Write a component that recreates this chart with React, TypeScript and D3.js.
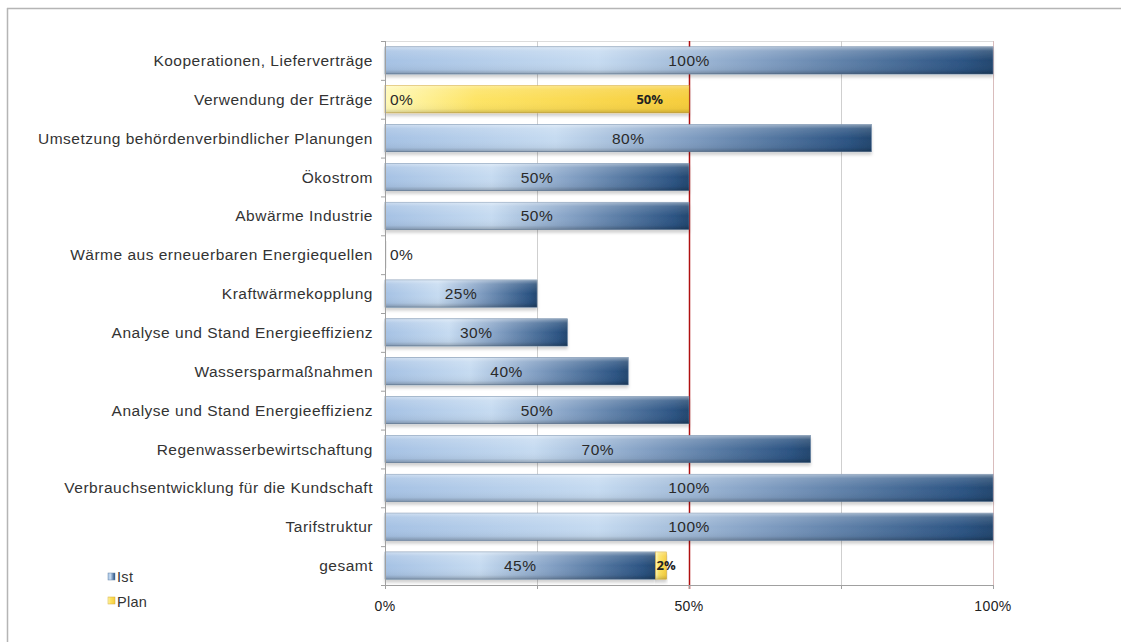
import React from "react";
import * as d3 from "d3";

const categories = [
  "Kooperationen, Lieferverträge",
  "Verwendung der Erträge",
  "Umsetzung behördenverbindlicher Planungen",
  "Ökostrom",
  "Abwärme Industrie",
  "Wärme aus erneuerbaren Energiequellen",
  "Kraftwärmekopplung",
  "Analyse und Stand Energieeffizienz",
  "Wassersparmaßnahmen",
  "Analyse und Stand Energieeffizienz ",
  "Regenwasserbewirtschaftung",
  "Verbrauchsentwicklung für die Kundschaft",
  "Tarifstruktur",
  "gesamt",
];
const istValues = [100, 0, 80, 50, 50, 0, 25, 30, 40, 50, 70, 100, 100, 44.5];
const planValues = [0, 50, 0, 0, 0, 0, 0, 0, 0, 0, 0, 0, 0, 1.8];
const xTicks = [0, 25, 50, 75, 100];
const xTickLabels = [0, 50, 100];
const targetValue = 50;

const W = 1127;
const H = 642;
const M = { left: 385, right: 993, top: 41, bottom: 585 };

export default function App() {
  const x = d3.scaleLinear().domain([0, 100]).range([M.left, M.right]);
  const y = d3
    .scaleBand<string>()
    .domain(categories)
    .range([M.top, M.bottom])
    .paddingInner(0.3)
    .paddingOuter(0.15);
  const step = y.step();
  const bw = y.bandwidth();
  const fmt = (v: number) => `${Math.round(v)}%`;
  const font = "'Liberation Sans', Arial, sans-serif";

  return (
    <svg
      width={W}
      height={H}
      style={{ position: "absolute", left: 0, top: 0, background: "#fff" }}
      fontFamily={font}
    >
      <defs>
        <linearGradient id="blueH" x1="0" x2="1" y1="0" y2="0">
          <stop offset="0" stopColor="#a6c2e4" />
          <stop offset="0.35" stopColor="#c6dbf1" />
          <stop offset="0.62" stopColor="#829fc3" />
          <stop offset="0.95" stopColor="#2c5483" />
          <stop offset="1" stopColor="#23476f" />
        </linearGradient>
        <linearGradient id="yellowH" x1="0" x2="1" y1="0" y2="0">
          <stop offset="0" stopColor="#fff9b8" />
          <stop offset="0.3" stopColor="#fde466" />
          <stop offset="1" stopColor="#f6cd3c" />
        </linearGradient>
        <linearGradient id="gloss" x1="0" x2="0" y1="0" y2="1">
          <stop offset="0" stopColor="#ffffff" stopOpacity="0.45" />
          <stop offset="0.15" stopColor="#ffffff" stopOpacity="0.15" />
          <stop offset="0.5" stopColor="#ffffff" stopOpacity="0" />
          <stop offset="0.85" stopColor="#000000" stopOpacity="0.05" />
          <stop offset="1" stopColor="#000000" stopOpacity="0.25" />
        </linearGradient>
        <filter id="shadow" x="-5%" y="-20%" width="110%" height="160%">
          <feDropShadow dx="0" dy="3" stdDeviation="1.5" floodColor="#000" floodOpacity="0.18" />
        </filter>
      </defs>

      {/* outer frame */}
      <line x1={7.5} x2={7.5} y1={8} y2={H} stroke="#b5b5b5" strokeWidth={1.5} />
      <line x1={7} x2={1121} y1={8.5} y2={8.5} stroke="#b5b5b5" strokeWidth={1.5} />

      {/* plot top border */}
      <line x1={M.left} x2={M.right} y1={M.top + 0.5} y2={M.top + 0.5} stroke="#dcdcdc" />

      {/* gridlines */}
      {xTicks.slice(1).map((t) => (
        <line
          key={t}
          x1={x(t) + 0.5}
          x2={x(t) + 0.5}
          y1={M.top}
          y2={M.bottom}
          stroke={t === 100 ? "#d9bcbc" : "#cfcfcf"}
          strokeWidth={1}
        />
      ))}
      {/* target line */}
      <line
        x1={x(targetValue) + 0.5}
        x2={x(targetValue) + 0.5}
        y1={M.top}
        y2={M.bottom + 4}
        stroke="#b01010"
        strokeWidth={1.5}
      />

      {/* bars */}
      {categories.map((c, i) => {
        const yy = y(c)!;
        const iv = istValues[i];
        const pv = planValues[i];
        const x0 = x(0);
        const x1 = x(iv);
        const x2 = x(iv + pv);
        return (
          <g key={i}>
            {iv > 0 && (
              <g filter="url(#shadow)">
                <rect x={x0} y={yy} width={x1 - x0} height={bw} fill="url(#blueH)" stroke="#5f7d9f" strokeWidth={0.6} />
                <rect x={x0} y={yy} width={x1 - x0} height={bw} fill="url(#gloss)" />
              </g>
            )}
            {iv === 0 && pv === 0 && (
              <rect x={x0} y={yy} width={2} height={bw} fill="#f0f0f0" />
            )}
            {pv > 0 && (
              <g filter="url(#shadow)">
                <rect x={x1} y={yy} width={x2 - x1} height={bw} fill="url(#yellowH)" stroke="#d4aa3a" strokeWidth={0.6} />
                <rect x={x1} y={yy} width={x2 - x1} height={bw} fill="url(#gloss)" opacity={0.7} />
              </g>
            )}
          </g>
        );
      })}

      {/* value labels */}
      {categories.map((c, i) => {
        const cy = y(c)! + bw / 2;
        const iv = istValues[i];
        const pv = planValues[i];
        const x0 = x(0);
        const x1 = x(iv);
        const x2 = x(iv + pv);
        return (
          <g key={"l" + i}>
            <text
              x={iv > 0 ? (x0 + x1) / 2 : x0 + 5}
              y={cy}
              dy="0.36em"
              textAnchor={iv > 0 ? "middle" : "start"}
              fontSize={15.5}
              letterSpacing={0.5}
              fill="#2a2a2a"
            >
              {fmt(iv)}
            </text>
            {pv > 0 && (
              <text
                x={x2 - x1 > 40 ? x2 - 26 : x1 + 1}
                y={cy}
                dy="0.36em"
                textAnchor={x2 - x1 > 40 ? "end" : "start"}
                fontSize={13}
                fontWeight="bold"
                fontFamily="'Open Sans', 'Noto Sans', sans-serif"
                fill="#222"
              >
                {fmt(pv)}
              </text>
            )}
          </g>
        );
      })}

      {/* left axis */}
      <line x1={M.left + 0.5} x2={M.left + 0.5} y1={M.top} y2={M.bottom + 4} stroke="#a0a0a0" />
      {d3.range(categories.length + 1).map((k) => (
        <line
          key={"t" + k}
          x1={M.left - 4}
          x2={M.left}
          y1={M.top + k * step + 0.5}
          y2={M.top + k * step + 0.5}
          stroke="#a0a0a0"
        />
      ))}
      {categories.map((c) => (
        <text
          key={"c" + c}
          x={M.left - 12}
          y={y(c)! + bw / 2}
          dy="0.36em"
          textAnchor="end"
          fontSize={15.5}
          letterSpacing={0.5}
          fill="#333"
        >
          {c.trim()}
        </text>
      ))}

      {/* bottom axis */}
      <line x1={M.left - 4} x2={M.right} y1={M.bottom + 0.5} y2={M.bottom + 0.5} stroke="#a0a0a0" />
      {xTicks.map((t) => (
        <line key={"bt" + t} x1={x(t) + 0.5} x2={x(t) + 0.5} y1={M.bottom} y2={M.bottom + 4} stroke="#a0a0a0" />
      ))}
      {xTickLabels.map((t) => (
        <text key={"bl" + t} x={x(t)} y={M.bottom + 26} textAnchor="middle" fontSize={14} letterSpacing={0.4} fill="#222">
          {t}%
        </text>
      ))}

      {/* legend */}
      <g>
        <rect x={108} y={573} width={7} height={7} fill="url(#blueH)" stroke="#6a86a8" strokeWidth={0.5} />
        <text x={117} y={582} fontSize={14.5} letterSpacing={0.3} fill="#333">Ist</text>
        <rect x={108} y={597} width={7} height={7} fill="url(#yellowH)" stroke="#d4aa3a" strokeWidth={0.5} />
        <text x={117} y={607} fontSize={14.5} letterSpacing={0.3} fill="#333">Plan</text>
      </g>
    </svg>
  );
}
